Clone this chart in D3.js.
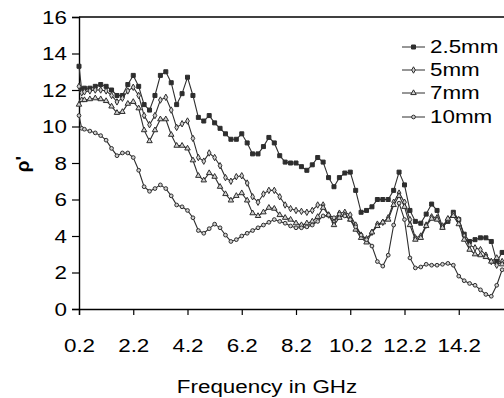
<!DOCTYPE html>
<html>
<head>
<meta charset="utf-8">
<script src="https://cdn.jsdelivr.net/npm/d3@7"></script>
<style>
  body { margin: 0; background: #fff; }
  svg { display: block; font-family: "Liberation Sans", Arial, sans-serif; }
</style>
</head>
<body>
<div id="chart"></div>
<script>
// frequency in GHz (first two points are the start-up spike)
const freq = [0.2, 0.3, 0.4, 0.6, 0.8, 1.0, 1.2, 1.4, 1.6, 1.8, 2.0,
  2.2, 2.4, 2.6, 2.8, 3.0, 3.2, 3.4, 3.6, 3.8, 4.0,
  4.2, 4.4, 4.6, 4.8, 5.0, 5.2, 5.4, 5.6, 5.8, 6.0,
  6.2, 6.4, 6.6, 6.8, 7.0, 7.2, 7.4, 7.6, 7.8, 8.0,
  8.2, 8.4, 8.6, 8.8, 9.0, 9.2, 9.4, 9.6, 9.8, 10.0,
  10.2, 10.4, 10.6, 10.8, 11.0, 11.2, 11.4, 11.6, 11.8, 12.0,
  12.2, 12.4, 12.6, 12.8, 13.0, 13.2, 13.4, 13.6, 13.8, 14.0,
  14.2, 14.4, 14.6, 14.8, 15.0, 15.2, 15.4, 15.6, 15.8];

const mm25 = [13.3, 12.0, 12.1, 12.1, 12.2, 12.3, 12.2, 12.0, 11.7, 11.7, 12.3,
  12.8, 12.2, 11.2, 10.9, 11.7, 12.8, 13.0, 12.4, 11.2, 11.8,
  12.7, 11.7, 10.5, 10.3, 10.6, 10.2, 9.9, 9.6, 9.3, 9.3,
  9.6, 9.1, 8.5, 8.5, 8.9, 9.4, 9.1, 8.4, 8.05, 8.0,
  8.0, 7.8, 7.6, 7.9, 8.3, 8.05, 7.2, 6.7, 7.2, 7.45,
  7.5, 6.5, 5.3, 5.4, 5.6, 6.0, 6.0, 6.0, 6.5, 7.5,
  6.8, 5.4, 4.8, 4.7, 5.2, 5.75, 5.4, 4.5, 4.8, 5.3,
  4.9, 4.1, 3.7, 3.8, 3.9, 3.9, 3.7, 2.6, 3.1];

const mm5 = [12.2, 11.85, 11.9, 11.95, 12.0, 12.0, 11.95, 11.7, 11.35, 11.55, 11.95,
  12.15, 11.7, 10.6, 10.1, 10.6, 11.45, 11.6, 10.9, 9.95, 10.15,
  10.3, 9.35, 8.3, 8.1, 8.55, 8.3, 7.85, 7.2, 7.0, 7.25,
  7.3, 6.9, 6.15, 5.85, 6.3, 6.5, 6.5, 6.15, 5.7, 5.5,
  5.4, 5.35, 5.3, 5.4, 5.7, 5.7, 5.15, 4.75, 5.25, 5.3,
  5.15, 4.6, 4.05, 3.85, 4.2, 4.65, 4.75, 5.0, 5.85, 6.35,
  5.85, 4.9, 3.9, 4.0, 4.6, 5.05, 5.0, 4.55, 4.9, 5.2,
  4.9, 4.0, 3.5, 3.35, 3.25, 2.95, 2.6, 2.4, 2.6];

const mm7 = [11.2, 11.45, 11.45, 11.5, 11.55, 11.5, 11.4, 11.1, 10.75, 10.8, 11.25,
  11.35, 11.0, 9.8, 9.2, 9.8, 10.4, 10.4, 9.55, 8.95, 8.95,
  8.8, 8.15, 7.3, 7.05, 7.45, 7.25, 6.7, 6.3, 5.95, 6.2,
  6.35, 5.95, 5.25, 5.1, 5.3, 5.55, 5.5, 5.15, 5.0, 4.9,
  4.7, 4.6, 4.7, 4.8, 5.05, 5.55, 5.15, 4.6, 5.0, 5.15,
  4.9, 4.35, 3.9, 3.65, 4.2, 4.55, 4.75, 4.9, 5.7, 6.2,
  5.6, 4.6, 3.8, 3.9, 4.55, 4.95, 4.9, 4.45, 4.95, 5.1,
  4.65, 3.8, 3.25, 3.0, 2.95, 2.85, 2.6, 2.8, 2.45];

const mm10 = [10.6, 9.9, 9.85, 9.75, 9.65, 9.5, 9.25, 8.8, 8.4, 8.55, 8.55,
  8.3, 7.6, 6.7, 6.45, 6.6, 6.8, 6.6, 6.2, 5.7, 5.6,
  5.4, 5.0, 4.3, 4.15, 4.4, 4.65, 4.45, 4.05, 3.7, 3.8,
  4.0, 4.15, 4.3, 4.45, 4.6, 4.75, 4.9, 4.8, 4.7, 4.55,
  4.45, 4.45, 4.5, 4.6, 4.8, 5.1, 5.15, 5.0, 5.2, 5.1,
  4.9, 4.5, 4.05, 3.8, 3.45, 2.6, 2.35, 2.95, 4.6, 5.8,
  4.9, 2.8, 2.25, 2.3, 2.45, 2.4, 2.4, 2.45, 2.5, 2.4,
  1.8, 1.55, 1.4, 1.3, 1.05, 0.8, 0.7, 1.3, 2.15];

const seriesNames = ["2.5mm", "5mm", "7mm", "10mm"];
const seriesValues = [mm25, mm5, mm7, mm10];
const markerTypes = ["square", "diamond", "triangle", "circle"];

const xTicks = [0.2, 2.2, 4.2, 6.2, 8.2, 10.2, 12.2, 14.2];
const yTicks = [0, 2, 4, 6, 8, 10, 12, 14, 16];

const width = 504;
const height = 398;
const plot = {left: 79, top: 17, right: 513, bottom: 309};
const stretch = 1.28;   // the original picture is stretched sideways
const ink = "#2e2e2e";

const svg = d3.select("#chart").append("svg")
  .attr("width", width)
  .attr("height", height);

const x = d3.scaleLinear().domain([0.2, 16.2]).range([plot.left, plot.right]);
const y = d3.scaleLinear().domain([0, 16]).range([plot.bottom, plot.top]);

// frame: top border plus axes
svg.append("line")
  .attr("x1", plot.left).attr("x2", width)
  .attr("y1", plot.top).attr("y2", plot.top)
  .attr("stroke", "#000").attr("stroke-width", 1.4);

// y axis
const yAxis = svg.append("g")
  .attr("transform", `translate(${plot.left},0)`)
  .call(d3.axisLeft(y).tickValues(yTicks).tickSize(7).tickFormat(d3.format("d")));
yAxis.select(".domain").attr("stroke", "#000").attr("stroke-width", 1.4);
yAxis.selectAll(".tick line").attr("stroke", "#000").attr("stroke-width", 1.2);
yAxis.selectAll(".tick text").remove();
yAxis.selectAll(".tick").append("text")
  .attr("transform", `translate(-12,0) scale(${stretch},1)`)
  .attr("dy", "0.36em")
  .attr("text-anchor", "end")
  .attr("fill", "#000")
  .style("font-size", "17.5px")
  .text(d => d);

// x axis
const xAxis = svg.append("g")
  .attr("transform", `translate(0,${plot.bottom})`)
  .call(d3.axisBottom(x).tickValues(xTicks).tickSize(6).tickFormat(d3.format(".1f")));
xAxis.select(".domain").attr("stroke", "#000").attr("stroke-width", 1.4);
xAxis.selectAll(".tick line").attr("stroke", "#000").attr("stroke-width", 1.2);
xAxis.selectAll(".tick text").remove();
xAxis.selectAll(".tick").append("text")
  .attr("transform", `translate(0,43) scale(${stretch},1)`)
  .attr("text-anchor", "middle")
  .attr("fill", "#000")
  .style("font-size", "17.5px")
  .text(d => d3.format(".1f")(d));

// axis titles
svg.append("text")
  .attr("transform", `translate(267,393) scale(${stretch},1)`)
  .attr("text-anchor", "middle")
  .style("font-size", "17.5px")
  .text("Frequency in GHz");

svg.append("text")
  .attr("transform", "translate(29,164) rotate(-90)")
  .attr("text-anchor", "middle")
  .style("font-size", "19px")
  .style("font-weight", "bold")
  .text("ρ'");

// markers
const symbolFor = {
  square: d3.symbol().type(d3.symbolSquare).size(16),
  diamond: d3.symbol().type(d3.symbolDiamond).size(12),
  triangle: d3.symbol().type(d3.symbolTriangle).size(13),
  circle: d3.symbol().type(d3.symbolCircle).size(11)
};

function drawMarker(g, type) {
  g.append("path")
    .attr("d", symbolFor[type]())
    .attr("fill", type === "square" ? ink : "#cfcfcf")
    .attr("stroke", ink)
    .attr("stroke-width", 1);
}

const line = d3.line()
  .x((d, i) => x(freq[i]))
  .y(d => y(d));

const plotArea = svg.append("g");

seriesValues.forEach((vals, s) => {
  const g = plotArea.append("g");
  g.append("path")
    .datum(vals)
    .attr("fill", "none")
    .attr("stroke", ink)
    .attr("stroke-width", 1.1)
    .attr("d", line);

  g.selectAll("g.pt")
    .data(vals)
    .join("g")
    .attr("class", "pt")
    .attr("transform", (d, i) => `translate(${x(freq[i])},${y(d)})`)
    .each(function () { drawMarker(d3.select(this), markerTypes[s]); });
});

// legend
const legendRows = [47, 70, 93, 117];
const legend = svg.append("g");
seriesNames.forEach((name, s) => {
  const row = legend.append("g").attr("transform", `translate(402,${legendRows[s]})`);
  row.append("line")
    .attr("x1", 0).attr("x2", 23)
    .attr("stroke", ink).attr("stroke-width", 1);
  const m = row.append("g").attr("transform", "translate(11.5,0)");
  drawMarker(m, markerTypes[s]);
  row.append("text")
    .attr("transform", `translate(28,0) scale(${stretch},1)`)
    .attr("dy", "0.36em")
    .style("font-size", "17.5px")
    .text(name);
});
</script>
</body>
</html>
